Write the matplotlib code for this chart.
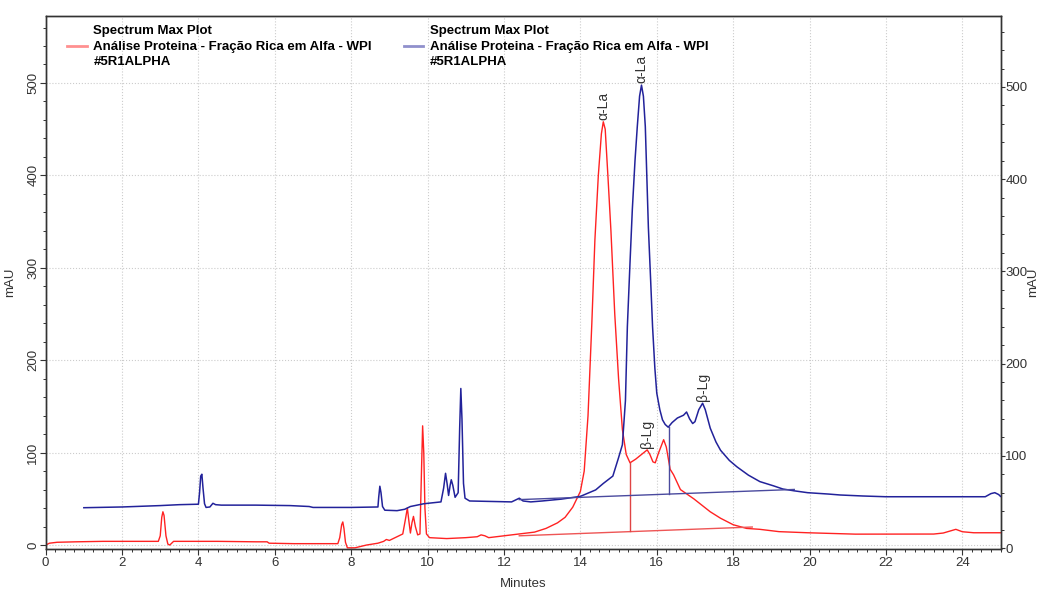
import matplotlib.pyplot as plt
from matplotlib.lines import Line2D
from matplotlib.ticker import MultipleLocator

plt.rcParams['font.family'] = ['Liberation Sans', 'DejaVu Sans']

red_t = [0.0, 0.1, 0.3, 0.8, 1.5, 2.5, 2.95, 3.0, 3.04, 3.07, 3.1, 3.15, 3.2, 3.25, 3.35,
         3.6, 4.5, 5.5, 5.8, 5.85, 6.5, 7.65, 7.7, 7.75, 7.78, 7.81, 7.85, 7.9, 8.1, 8.4,
         8.7, 8.85, 8.92, 9.0, 9.2, 9.35, 9.42, 9.47, 9.51, 9.55, 9.59, 9.63, 9.68, 9.74,
         9.8, 9.84, 9.87, 9.9, 9.93, 9.97, 10.05, 10.5, 11.0, 11.3, 11.4, 11.5, 11.6, 12.0,
         12.4, 12.8, 13.1, 13.4, 13.6, 13.8, 14.0, 14.1, 14.2, 14.3, 14.38, 14.47, 14.55,
         14.6, 14.65, 14.72, 14.8, 14.9, 15.0, 15.1, 15.2, 15.3, 15.45, 15.6, 15.75, 15.82,
         15.9, 15.96, 16.05, 16.18, 16.25, 16.35, 16.44, 16.62, 16.97, 17.4, 17.67, 18.0,
         18.35, 18.7, 19.2, 19.95, 21.2, 23.25, 23.5, 23.83, 24.0, 24.3, 25.0]
red_v = [0, 2, 3, 3.5, 4, 4, 4, 10, 30, 36, 32, 10, 1, 0, 4,
         4, 4, 3.5, 3.5, 2, 1.5, 1.5, 8, 22, 25, 18, 3, -3, -3, 0,
         2, 4, 6, 5, 9, 12, 28, 40, 26, 13, 24, 31, 20, 11,
         12, 80, 129, 100, 40, 12, 8, 7, 8, 9, 11, 10, 8, 10,
         12, 14, 18, 24, 30, 41, 58, 80, 140, 240, 330, 400, 445,
         458, 450, 400, 340, 250, 180, 125, 98, 89, 93, 98, 103, 98,
         90, 89, 100, 114, 106, 82, 76, 60, 50, 36, 29, 22,
         18, 17, 14.5, 13.3, 11.8, 11.9, 13, 17, 14.4, 13.3, 13.3]

blue_t = [1.0, 2.0, 3.0, 3.5, 4.0, 4.03, 4.06, 4.09, 4.12, 4.16, 4.2, 4.3, 4.38, 4.45,
          4.6, 5.5, 6.4, 6.9, 7.0, 8.0, 8.7, 8.72, 8.75, 8.78, 8.82, 8.88, 9.2, 9.4, 9.55,
          9.9, 10.35, 10.42, 10.47, 10.51, 10.55, 10.59, 10.62, 10.66, 10.72, 10.8, 10.84,
          10.87, 10.9, 10.94, 10.98, 11.1, 12.2, 12.3, 12.4, 12.5, 12.7, 13.0, 13.5, 14.0,
          14.4, 14.6, 14.85, 15.0, 15.1, 15.18, 15.23, 15.3, 15.36, 15.43, 15.49, 15.55,
          15.6, 15.65, 15.7, 15.78, 15.84, 15.89, 15.95, 16.0, 16.08, 16.15, 16.22, 16.3,
          16.4, 16.54, 16.7, 16.78, 16.86, 16.94, 17.0, 17.1, 17.2, 17.27, 17.4, 17.55,
          17.67, 17.9, 18.1, 18.4, 18.7, 19.05, 19.3, 19.6, 19.95, 20.5, 20.8, 21.4, 22.0,
          24.6, 24.75, 24.85, 24.95, 25.0]
blue_v = [43.7, 44.5, 46, 47, 47.5, 60, 78, 80, 65, 48, 44, 44.5, 48.5, 47,
          46.5, 46.5, 46, 45, 44, 44, 44.5, 55, 67, 60, 45, 41, 40.5, 42, 45,
          48, 50, 65, 81, 70, 57, 68, 74, 68, 55, 60, 130,
          173, 140, 70, 54, 51, 50, 52, 54, 51, 50, 51, 53, 56,
          63, 70, 78, 98, 112, 160, 240, 310, 367, 420, 457, 490,
          502, 490, 457, 348, 290, 240, 195, 168, 150, 139, 134, 131,
          136, 141, 144, 147.5, 140, 135, 137, 150, 157, 150, 130, 115,
          106, 95, 88, 79, 72, 67.5, 64, 62, 60, 58.5, 57.5, 56.4, 55.6,
          55.6, 59, 60, 58, 56]

# líneas de integración (base y caída)
red_base_t = [12.4, 18.5]
red_base_v = [10, 19.5]
red_drop_t = [15.3, 15.3]
red_drop_v = [14.7, 89]
blue_base_t = [12.4, 19.6]
blue_base_v = [52.5, 63.5]
blue_drop_t = [16.33, 16.33]
blue_drop_v = [58.5, 131]

red_peaks = [("α-La", 14.6, 458), ("β-Lg", 15.75, 103)]
blue_peaks = [("α-La", 15.6, 502), ("β-Lg", 17.2, 157)]

legend_label = "Spectrum Max Plot\nAnálise Proteina - Fração Rica em Alfa - WPI\n#5R1ALPHA"

red = '#ff2222'
blue = '#22229a'
gris = '#333333'

# --- FIGURA ---
fig = plt.figure(figsize=(10.42, 5.92), dpi=100)
ax = fig.add_axes([0.0438, 0.0726, 0.9164, 0.9009])
ax2 = ax.twinx()

ax.plot(red_t, red_v, color=red, lw=1.0)
ax.plot(red_base_t, red_base_v, color='#ee5555', lw=1.0)
ax.plot(red_drop_t, red_drop_v, color='#e04444', lw=1.0)

ax2.plot(blue_t, blue_v, color=blue, lw=1.1)
ax2.plot(blue_base_t, blue_base_v, color='#4a4a9e', lw=1.0)
ax2.plot(blue_drop_t, blue_drop_v, color='#4a4a9e', lw=1.0)

for txt, t, v in red_peaks:
    ax.annotate(txt, (t, v), xytext=(0, 1.5), textcoords='offset points',
                rotation=90, ha='center', va='bottom', fontsize=10, color=gris)
for txt, t, v in blue_peaks:
    ax2.annotate(txt, (t, v), xytext=(0, 1.5), textcoords='offset points',
                 rotation=90, ha='center', va='bottom', fontsize=10, color=gris)

# ejes
ax.set_xlim(0, 25)
ax.set_ylim(-4.3, 572.8)
ax2.set_ylim(-1.1, 577.3)

ax.xaxis.set_major_locator(MultipleLocator(2))
ax.xaxis.set_minor_locator(MultipleLocator(0.25))
ax.yaxis.set_major_locator(MultipleLocator(100))
ax.yaxis.set_minor_locator(MultipleLocator(20))
ax2.yaxis.set_major_locator(MultipleLocator(100))
ax2.yaxis.set_minor_locator(MultipleLocator(20))

ax.tick_params(axis='both', which='major', direction='out', length=4, width=0.8,
               color=gris, labelcolor=gris, labelsize=9.5, pad=2)
ax.tick_params(axis='both', which='minor', direction='out', length=2.5, width=0.7, color=gris)
ax.tick_params(axis='y', labelrotation=90, pad=0.5)
ax2.tick_params(axis='y', which='major', direction='out', length=3, width=0.8,
                color=gris, labelcolor=gris, labelsize=9.5, pad=0.5)
ax2.tick_params(axis='y', which='minor', direction='out', length=2.5, width=0.7, color=gris)
for lab in ax.get_yticklabels():
    lab.set_verticalalignment('center')

ax.grid(True, which='major', linestyle=':', color='#cccccc', lw=0.8)
for a in (ax, ax2):
    for s in a.spines.values():
        s.set_color(gris)
        s.set_linewidth(1.0)

ax.set_xlabel("Minutes", fontsize=9.5, color=gris, labelpad=6)
ax.set_ylabel("mAU", fontsize=9.5, color=gris, labelpad=8)
ax2.set_ylabel("mAU", fontsize=9.5, color=gris)
ax2.yaxis.set_label_coords(1.0275, 0.5)

handles = [Line2D([], [], color=red, alpha=0.5, lw=2),
           Line2D([], [], color=blue, alpha=0.5, lw=2)]
leg = ax2.legend(handles, [legend_label, legend_label], ncol=2, loc='upper left',
                 bbox_to_anchor=(0.0224, 0.983), frameon=False, borderaxespad=0,
                 borderpad=0, handlelength=1.5, handletextpad=0.5, columnspacing=2.4,
                 prop={'weight': 'bold', 'size': 9.5})
for t in leg.get_texts():
    t.set_linespacing(1.42)

fig.savefig("out.png", dpi=100)
